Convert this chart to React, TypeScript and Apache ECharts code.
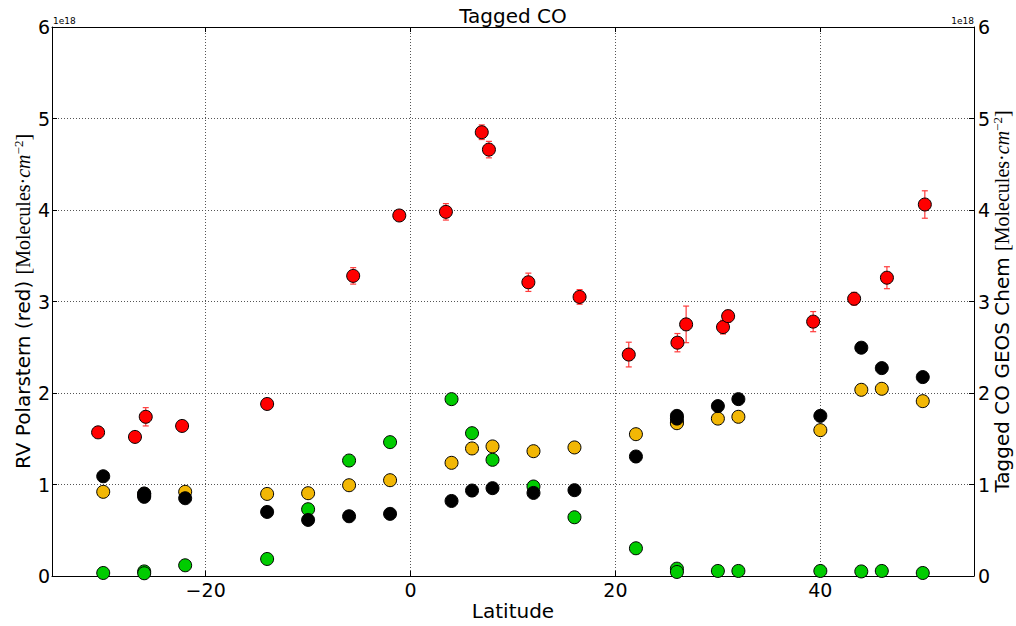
import React, { useEffect, useRef } from "react";
import * as echarts from "echarts";

const redLat = [-30.5, -26.9, -25.85, -22.3, -14.0, -5.6, -1.1, 3.45, 6.95, 7.65, 11.5, 16.5, 21.3, 26.05, 26.9, 30.5, 31.0, 39.3, 43.3, 46.5, 50.2];
const redVal = [1.57, 1.52, 1.74, 1.64, 1.88, 3.28, 3.94, 3.98, 4.85, 4.66, 3.21, 3.05, 2.42, 2.55, 2.75, 2.72, 2.84, 2.78, 3.03, 3.26, 4.06];
const redErr = [0.02, 0.02, 0.10, 0.02, 0.02, 0.09, 0.03, 0.09, 0.08, 0.09, 0.10, 0.08, 0.135, 0.10, 0.20, 0.075, 0.065, 0.11, 0.07, 0.12, 0.15];

const modelLat = [-30, -26, -26, -22, -14, -10, -6, -2, 4, 6, 8, 12, 16, 22, 26, 26, 30, 32, 40, 44, 46, 50];
const orangeVal = [0.92, 0.9, 0.88, 0.92, 0.897, 0.905, 0.992, 1.047, 1.237, 1.394, 1.416, 1.364, 1.405, 1.55, 1.68, 1.67, 1.72, 1.74, 1.594, 2.035, 2.046, 1.911];
const greenVal = [0.033, 0.05, 0.03, 0.117, 0.186, 0.73, 1.262, 1.463, 1.933, 1.561, 1.27, 0.978, 0.642, 0.303, 0.08, 0.044, 0.055, 0.055, 0.055, 0.05, 0.055, 0.033];
const blackVal = [1.09, 0.9, 0.865, 0.85, 0.7, 0.613, 0.653, 0.679, 0.82, 0.934, 0.96, 0.908, 0.938, 1.306, 1.75, 1.72, 1.857, 1.933, 1.75, 2.495, 2.272, 2.174];

const xTicks = [-20, 0, 20, 40];

const FONT = "DejaVu Sans";
const SERIF = "Liberation Serif";

const fmt = (v: number) => (v < 0 ? "\u2212" + Math.abs(v) : String(v));

export default function App() {
  const ref = useRef<HTMLDivElement>(null);
  useEffect(() => {
    if (!ref.current) return;
    const chart = echarts.init(ref.current, null, { renderer: "svg" });
    const pair = (xs: number[], ys: number[]) => xs.map((x, i) => [x, ys[i]]);
    const errData = redLat.map((x, i) => [x, redVal[i] - redErr[i], redVal[i] + redErr[i]]);
    const marker = (color: string) => ({
      color,
      borderColor: "#000",
      borderWidth: 1,
      opacity: 1,
    });
    const richName = (prefix: string) => ({
      name: `{a|${prefix} }{b|[Molecules\u00b7}{c|cm}{s|\u22122}{b|]}`,
      nameTextStyle: {
        rich: {
          a: { fontFamily: FONT, fontSize: 20, color: "#000", lineHeight: 22 },
          b: { fontFamily: SERIF, fontSize: 20, color: "#000", lineHeight: 22 },
          c: { fontFamily: SERIF, fontSize: 20, fontStyle: "italic", color: "#000", lineHeight: 22 },
          s: { fontFamily: SERIF, fontSize: 13, color: "#000", verticalAlign: "top", lineHeight: 13 },
        },
      },
    });
    const gridLine = { show: true, lineStyle: { color: "#555", width: 1, type: [1, 2] } };
    const option: any = {
      animation: false,
      grid: { left: 52, right: 42, top: 27, bottom: 50, show: false, outerBoundsMode: "none", containLabel: false },
      xAxis: [
        {
          type: "value",
          min: -35,
          max: 55,
          position: "bottom",
          name: "Latitude",
          nameLocation: "middle",
          nameGap: 25,
          nameMoveOverlap: false,
          nameTextStyle: { fontFamily: FONT, fontSize: 20, color: "#000" },
          axisLine: { show: true, onZero: false, lineStyle: { color: "#000", width: 1 } },
          axisTick: { show: true, inside: true, length: 5, customValues: xTicks, lineStyle: { color: "#000" } },
          axisLabel: { customValues: xTicks, formatter: fmt, fontFamily: FONT, fontSize: 19, color: "#000", margin: 4 },
          splitLine: gridLine,
        },
        {
          type: "value",
          min: -35,
          max: 55,
          position: "top",
          axisLine: { show: true, onZero: false, lineStyle: { color: "#000", width: 1 } },
          axisTick: { show: true, inside: true, length: 5, customValues: xTicks, lineStyle: { color: "#000" } },
          axisLabel: { show: false },
          splitLine: { show: false },
        },
      ],
      yAxis: [
        {
          type: "value",
          min: 0,
          max: 6,
          interval: 1,
          position: "left",
          ...richName("RV Polarstern (red)"),
          nameLocation: "middle",
          nameGap: 18,
          nameMoveOverlap: false,
          axisLine: { show: true, onZero: false, lineStyle: { color: "#000", width: 1 } },
          axisTick: { show: true, inside: true, length: 5, lineStyle: { color: "#000" } },
          axisLabel: { formatter: fmt, fontFamily: FONT, fontSize: 19, color: "#000", margin: 2 },
          splitLine: gridLine,
        },
        {
          type: "value",
          min: 0,
          max: 6,
          interval: 1,
          position: "right",
          ...richName("Tagged CO GEOS Chem"),
          nameLocation: "middle",
          nameGap: 17,
          nameMoveOverlap: false,
          axisLine: { show: true, onZero: false, lineStyle: { color: "#000", width: 1 } },
          axisTick: { show: true, inside: true, length: 5, lineStyle: { color: "#000" } },
          axisLabel: { formatter: fmt, fontFamily: FONT, fontSize: 19, color: "#000", margin: 4 },
          splitLine: { show: false },
        },
      ],
      graphic: [
        {
          type: "text",
          x: 513,
          y: 16,
          style: { text: "Tagged CO", fontFamily: FONT, fontSize: 20, fill: "#000", textAlign: "center", textVerticalAlign: "middle" },
        },
        {
          type: "text",
          x: 53,
          y: 21,
          style: { text: "1e18", fontFamily: FONT, fontSize: 9, fill: "#000", textAlign: "left", textVerticalAlign: "middle" },
        },
        {
          type: "text",
          x: 974,
          y: 21,
          style: { text: "1e18", fontFamily: FONT, fontSize: 9, fill: "#000", textAlign: "right", textVerticalAlign: "middle" },
        },
      ],
      series: [
        {
          type: "scatter",
          xAxisIndex: 0,
          yAxisIndex: 1,
          symbol: "circle",
          symbolSize: 13,
          itemStyle: marker("#f2b705"),
          data: pair(modelLat, orangeVal),
        },
        {
          type: "scatter",
          xAxisIndex: 0,
          yAxisIndex: 1,
          symbol: "circle",
          symbolSize: 13,
          itemStyle: marker("#00cc00"),
          data: pair(modelLat, greenVal),
        },
        {
          type: "scatter",
          xAxisIndex: 0,
          yAxisIndex: 1,
          symbol: "circle",
          symbolSize: 13,
          itemStyle: marker("#000000"),
          data: pair(modelLat, blackVal),
        },
        {
          type: "custom",
          xAxisIndex: 0,
          yAxisIndex: 0,
          encode: { x: 0, y: [1, 2] },
          data: errData,
          renderItem: (params: any, api: any) => {
            const x = api.value(0);
            const lo = api.coord([x, api.value(1)]);
            const hi = api.coord([x, api.value(2)]);
            const w = 3;
            const st = { stroke: "#ff3b3b", lineWidth: 1.2 };
            return {
              type: "group",
              children: [
                { type: "line", shape: { x1: hi[0], y1: hi[1], x2: lo[0], y2: lo[1] }, style: st },
                { type: "line", shape: { x1: hi[0] - w, y1: hi[1], x2: hi[0] + w, y2: hi[1] }, style: st },
                { type: "line", shape: { x1: lo[0] - w, y1: lo[1], x2: lo[0] + w, y2: lo[1] }, style: st },
              ],
            };
          },
        },
        {
          type: "scatter",
          xAxisIndex: 0,
          yAxisIndex: 0,
          symbol: "circle",
          symbolSize: 13,
          itemStyle: marker("#ff0000"),
          data: pair(redLat, redVal),
        },
      ],
    };
    chart.setOption(option);
    return () => chart.dispose();
  }, []);
  return <div ref={ref} style={{ position: "absolute", left: 0, top: 0, width: 1016, height: 626 }} />;
}
